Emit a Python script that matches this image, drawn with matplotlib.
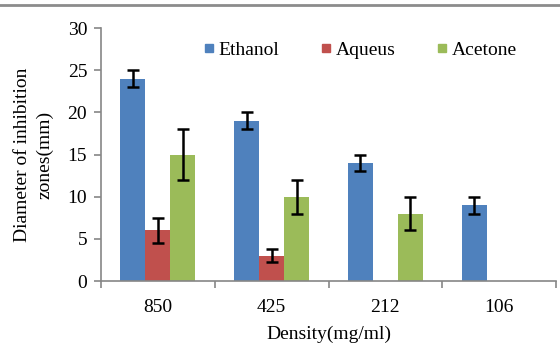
import numpy as np
import matplotlib.pyplot as plt
from matplotlib.lines import Line2D

densities = ["850", "425", "212", "106"]
series = ["Ethanol", "Aqueus", "Acetone"]
ethanol = [24, 19, 14, 9]
ethanol_err = [1, 1, 1, 1]
aqueus = [6, 3, None, None]
aqueus_err = [1.5, 0.8, None, None]
acetone = [15, 10, 8, None]
acetone_err = [3, 2, 2, None]
colors = ["#4F81BD", "#C0504D", "#9BBB59"]

plt.rcParams["font.family"] = ["Liberation Serif", "DejaVu Serif"]
plt.rcParams["font.size"] = 14

fig = plt.figure(figsize=(5.6, 3.54), dpi=100)
ax = fig.add_axes([0.1804, 0.2062, 0.8125, 0.7147])

x = np.arange(len(densities))
width = 0.22
all_vals = [ethanol, aqueus, acetone]
all_errs = [ethanol_err, aqueus_err, acetone_err]
handles = []
for i, (vals, errs) in enumerate(zip(all_vals, all_errs)):
    # skip the missing bars (no zone measured)
    xs = [x[j] + (i - 1) * width for j in range(len(vals)) if vals[j] is not None]
    hs = [v for v in vals if v is not None]
    es = [e for e in errs if e is not None]
    ax.bar(xs, hs, width, color=colors[i], zorder=2)
    ax.errorbar(xs, hs, yerr=es, fmt="none", ecolor="black", elinewidth=1.8,
                capsize=4, capthick=1.8, zorder=3)
    handles.append(Line2D([], [], marker="s", linestyle="none", markersize=6,
                          markerfacecolor=colors[i], markeredgecolor=colors[i]))

ax.set_xlim(-0.5, len(densities) - 0.5)
ax.set_ylim(0, 30)
ax.set_yticks(range(0, 31, 5))
ax.set_xticks(x)
ax.set_xticklabels(densities)
ax.set_xticks(np.arange(-0.5, len(densities), 1), minor=True)
ax.tick_params(axis="x", which="major", length=0, pad=13)
ax.tick_params(axis="x", which="minor", length=5, width=1.2, color="#868686", direction="out")
ax.tick_params(axis="y", length=5, width=1.2, color="#868686", direction="out", pad=5)

for spine in ["top", "right"]:
    ax.spines[spine].set_visible(False)
for spine in ["left", "bottom"]:
    ax.spines[spine].set_color("#868686")
    ax.spines[spine].set_linewidth(1.2)

ax.set_xlabel("Density(mg/ml)", labelpad=7)
ax.set_ylabel("Diameter of inhibition\nzones(mm)", labelpad=10, linespacing=1.4)

ax.legend(handles, series, loc="upper left", bbox_to_anchor=(0.19, 1.0), ncol=3,
          frameon=False, handletextpad=0.1, handlelength=0.8, columnspacing=2.0,
          borderaxespad=0.3)

fig.add_artist(Line2D([0, 1], [1 - 5 / 354, 1 - 5 / 354], color="#8c8c8c", linewidth=2,
                      transform=fig.transFigure))

plt.savefig("out.png", dpi=100)
